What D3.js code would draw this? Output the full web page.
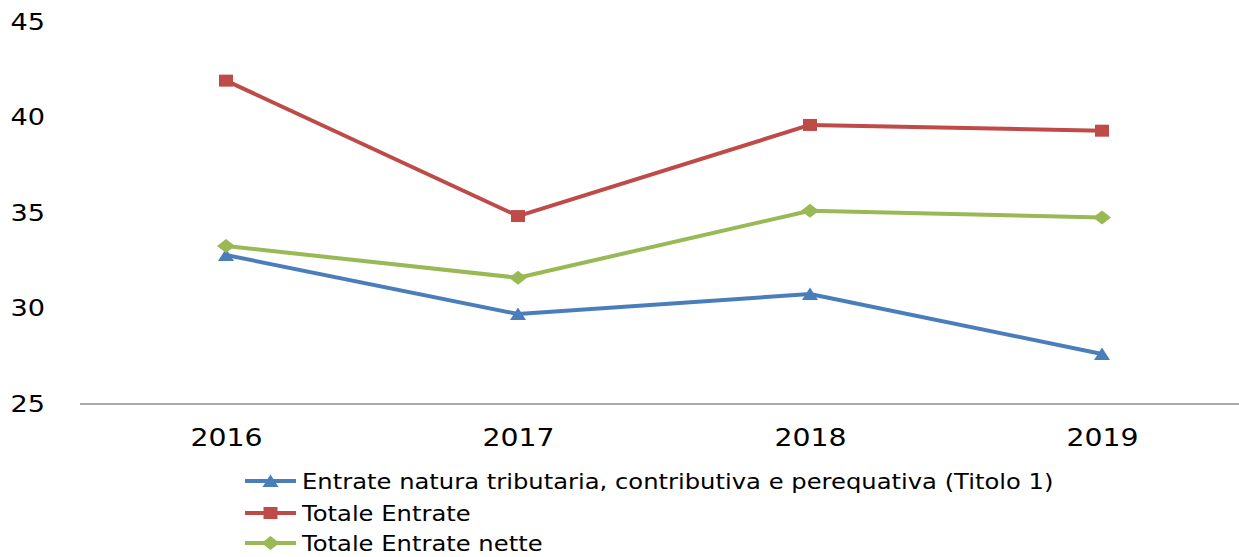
<!DOCTYPE html>
<html>
<head>
<meta charset="utf-8">
<script src="https://cdn.jsdelivr.net/npm/d3@7"></script>
<style>
  body { margin: 0; background: #fff; }
  svg { display: block; font-family: "DejaVu Sans", sans-serif; }
</style>
</head>
<body>
<script>
const width = 1239;
const height = 557;

const years = ["2016", "2017", "2018", "2019"];
const yTicks = [25, 30, 35, 40, 45];

const titolo1 = [32.8, 29.71, 30.76, 27.62];
const totaleEntrate = [41.93, 34.84, 39.61, 39.31];
const totaleNette = [33.27, 31.61, 35.12, 34.77];

const seriesNames = [
  "Entrate natura tributaria, contributiva e perequativa (Titolo 1)",
  "Totale Entrate",
  "Totale Entrate nette",
];
const seriesColors = ["#4a7ebb", "#be4b48", "#98b954"];

// markers are a bit wider than tall, like the stretched original
const triangle = {
  draw(ctx) {
    ctx.moveTo(0, -6.5);
    ctx.lineTo(8, 6);
    ctx.lineTo(-8, 6);
    ctx.closePath();
  },
};
const square = {
  draw(ctx) {
    ctx.rect(-7, -6, 14, 12);
  },
};
const diamond = {
  draw(ctx) {
    ctx.moveTo(0, -7);
    ctx.lineTo(9, 0);
    ctx.lineTo(0, 7);
    ctx.lineTo(-9, 0);
    ctx.closePath();
  },
};
const seriesSymbols = [triangle, square, diamond];

const series = [titolo1, totaleEntrate, totaleNette].map((values, i) => ({
  name: seriesNames[i],
  color: seriesColors[i],
  symbol: seriesSymbols[i],
  values: values.map((v, j) => ({ year: years[j], value: v })),
}));

const plot = { left: 80, right: 1248, top: 22, bottom: 404 };
const stretch = 1.18;

const x = d3.scalePoint().domain(years).range([plot.left, plot.right]).padding(0.5);
const y = d3.scaleLinear().domain([25, 45]).range([plot.bottom, plot.top]);

const svg = d3.select("body").append("svg")
  .attr("width", width)
  .attr("height", height);

// y axis labels only (no axis line)
const yAxis = svg.append("g")
  .attr("transform", `translate(${plot.left},0)`)
  .call(d3.axisLeft(y).tickValues(yTicks).tickSize(0).tickPadding(35));
yAxis.select(".domain").remove();
yAxis.selectAll("text")
  .attr("font-size", 23)
  .attr("font-family", "DejaVu Sans")
  .attr("fill", "#000")
  .attr("transform", `scale(${stretch},1)`)
  .attr("x", -35 / stretch);

// x axis
const xAxis = svg.append("g")
  .attr("transform", `translate(0,${plot.bottom})`)
  .call(d3.axisBottom(x).tickSize(0).tickPadding(25));
xAxis.select(".domain")
  .attr("d", `M${plot.left},0H${width}`)
  .attr("stroke", "#8c8c8c")
  .attr("stroke-width", 1.5);
xAxis.selectAll(".tick text")
  .attr("font-size", 24)
  .attr("font-family", "DejaVu Sans")
  .attr("fill", "#000")
  .attr("transform", `scale(${stretch},1)`);
xAxis.selectAll(".tick").each(function () {
  const t = d3.select(this);
  const tx = +t.attr("transform").match(/translate\(([-\d.]+)/)[1];
  t.select("text").attr("x", 0);
  t.attr("transform", `translate(${tx},0)`);
});

const line = d3.line()
  .x((d) => x(d.year))
  .y((d) => y(d.value));

const g = svg.append("g");

series.forEach((s) => {
  g.append("path")
    .datum(s.values)
    .attr("fill", "none")
    .attr("stroke", s.color)
    .attr("stroke-width", 4)
    .attr("stroke-linejoin", "round")
    .attr("d", line);
});

series.forEach((s) => {
  g.selectAll(null)
    .data(s.values)
    .join("path")
    .attr("transform", (d) => `translate(${x(d.year)},${y(d.value)})`)
    .attr("fill", s.color)
    .attr("d", d3.symbol().type(s.symbol));
});

// legend
const legend = svg.append("g");
const rowY = [481, 513, 543];
const lx0 = 245, lx1 = 296;

series.forEach((s, i) => {
  const row = legend.append("g").attr("transform", `translate(0,${rowY[i]})`);
  row.append("line")
    .attr("x1", lx0).attr("x2", lx1)
    .attr("stroke", s.color)
    .attr("stroke-width", 4);
  row.append("path")
    .attr("transform", `translate(${(lx0 + lx1) / 2},0)`)
    .attr("fill", s.color)
    .attr("d", d3.symbol().type(s.symbol));
  row.append("text")
    .attr("transform", `translate(302,0) scale(1.155,1)`)
    .attr("dy", "0.36em")
    .attr("font-size", 21)
    .attr("fill", "#000")
    .text(s.name);
});
</script>
</body>
</html>
